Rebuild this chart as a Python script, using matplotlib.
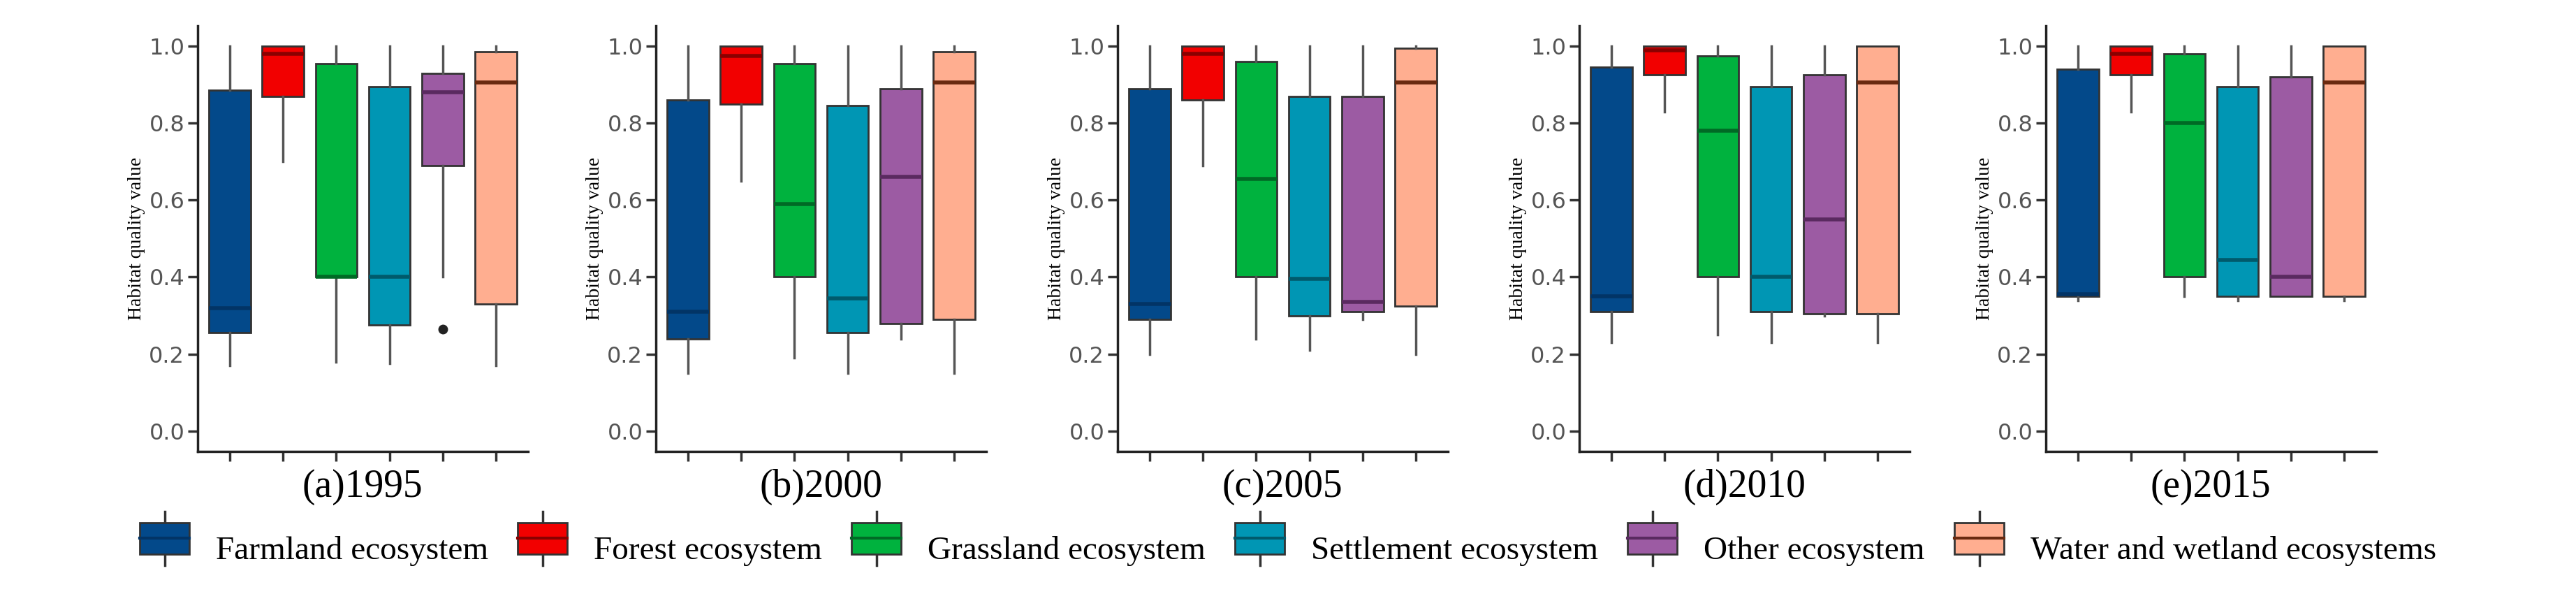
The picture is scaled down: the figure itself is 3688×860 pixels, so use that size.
import matplotlib
matplotlib.use("Agg")
import matplotlib.pyplot as plt
from matplotlib.patches import Patch, Rectangle
from matplotlib.lines import Line2D
from matplotlib.legend_handler import HandlerBase

categories = ["Farmland ecosystem", "Forest ecosystem", "Grassland ecosystem",
              "Settlement ecosystem", "Other ecosystem", "Water and wetland ecosystems"]
colors = ["#03498a", "#f20000", "#00b23e", "#0096b4", "#9c5ba3", "#ffae90"]
medcolors = ["#023466", "#8a0000", "#006a25", "#005a6c", "#5a2a60", "#6a2a10"]
titles = ["(a)1995", "(b)2000", "(c)2005", "(d)2010", "(e)2015"]
# (whislo, q1, med, q3, whishi)
s1995 = [(0.17,0.255,0.32,0.885,1.0),(0.70,0.87,0.98,1.0,1.0),(0.18,0.40,0.40,0.955,1.0),
         (0.175,0.275,0.40,0.895,1.0),(0.40,0.69,0.88,0.93,1.0),(0.17,0.33,0.905,0.985,1.0)]
s2000 = [(0.15,0.24,0.31,0.86,1.0),(0.65,0.85,0.975,1.0,1.0),(0.19,0.40,0.59,0.955,1.0),
         (0.15,0.255,0.345,0.845,1.0),(0.24,0.28,0.66,0.89,1.0),(0.15,0.29,0.905,0.985,1.0)]
s2005 = [(0.20,0.29,0.33,0.89,1.0),(0.69,0.86,0.98,1.0,1.0),(0.24,0.40,0.655,0.96,1.0),
         (0.21,0.30,0.395,0.87,1.0),(0.29,0.31,0.335,0.87,1.0),(0.20,0.325,0.905,0.995,1.0)]
s2010 = [(0.23,0.31,0.35,0.945,1.0),(0.83,0.925,0.99,1.0,1.0),(0.25,0.40,0.78,0.975,1.0),
         (0.23,0.31,0.40,0.895,1.0),(0.30,0.305,0.55,0.925,1.0),(0.23,0.305,0.905,1.0,1.0)]
s2015 = [(0.34,0.35,0.355,0.94,1.0),(0.83,0.925,0.98,1.0,1.0),(0.35,0.40,0.80,0.98,1.0),
         (0.34,0.35,0.445,0.895,1.0),(0.35,0.35,0.40,0.92,1.0),(0.34,0.35,0.905,1.0,1.0)]
outliers1995 = {4: [0.265]}
stats_all = [s1995, s2000, s2005, s2010, s2015]
outliers_all = [outliers1995, {}, {}, {}, {}]

fig = plt.figure(figsize=(36.88, 8.6), dpi=100)
lefts = [283, 939, 1600, 2261, 2929]
serif = "Liberation Serif"
for k, (stats, outl) in enumerate(zip(stats_all, outliers_all)):
    ax = fig.add_axes([lefts[k]/3688, 0.249, 473/3688, 0.708])
    for i, st in enumerate(stats):
        d = dict(whislo=st[0], q1=st[1], med=st[2], q3=st[3], whishi=st[4],
                 fliers=outl.get(i, []))
        ax.bxp([d], positions=[i+1], widths=0.78, patch_artist=True, showcaps=False,
               boxprops=dict(facecolor=colors[i], edgecolor="#333333", linewidth=2),
               medianprops=dict(color=medcolors[i], linewidth=4),
               whiskerprops=dict(color="#555555", linewidth=2.5),
               flierprops=dict(marker="o", markerfacecolor="#222222",
                               markeredgecolor="#222222", markersize=9))
    ax.set_xlim(0.4, 6.6)
    ax.set_ylim(-0.053, 1.053)
    ax.set_yticks([0, 0.2, 0.4, 0.6, 0.8, 1.0])
    ax.set_yticklabels(["0.0", "0.2", "0.4", "0.6", "0.8", "1.0"])
    ax.set_xticks(range(1, 7))
    ax.set_xticklabels([])
    for sp in ["top", "right"]:
        ax.spines[sp].set_visible(False)
    for sp in ["left", "bottom"]:
        ax.spines[sp].set_linewidth(2.5)
        ax.spines[sp].set_color("#222222")
    ax.tick_params(axis="y", labelsize=23, labelcolor="#555555", length=10, width=2.5, color="#333333")
    ax.tick_params(axis="x", length=10, width=2.5, color="#333333")
    ax.set_ylabel("Habitat quality value", fontsize=20, family=serif, labelpad=4)
    fig.text((lefts[k] + 236) / 3688, 0.19, titles[k], ha="center", va="center",
             fontsize=40, family=serif)


class BoxHandler(HandlerBase):
    def create_artists(self, legend, orig, xd, yd, w, h, fontsize, trans):
        i = orig.idx
        cx = xd + w / 2
        arts = [Line2D([cx, cx], [yd - 0.35 * h, yd + 1.35 * h], color="#333333", lw=2.5,
                       transform=trans),
                Rectangle((xd, yd), w, h, facecolor=colors[i], edgecolor="#333333", lw=2,
                          transform=trans),
                Line2D([xd, xd + w], [yd + h / 2, yd + h / 2], color=medcolors[i], lw=3,
                       transform=trans)]
        return arts


handles = []
for i, c in enumerate(colors):
    p = Patch(facecolor=c)
    p.idx = i
    handles.append(p)
fig.legend(handles, categories, loc="center", bbox_to_anchor=(0.5, 0.087), ncol=6,
           frameon=False, prop=dict(family=serif, size=34), handlelength=1.5,
           handleheight=1.1, columnspacing=0.9, handletextpad=0.8,
           handler_map={Patch: BoxHandler()})
fig.savefig("out.png", dpi=100)
